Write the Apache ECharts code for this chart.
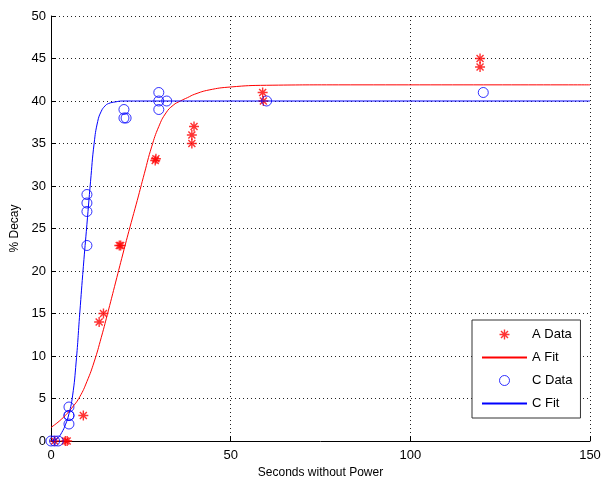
<!DOCTYPE html>
<html>
<head>
<meta charset="utf-8">
<script src="https://cdn.jsdelivr.net/npm/echarts@6/dist/echarts.min.js"></script>
<style>
  html, body { margin: 0; padding: 0; background: #fff; }
  #chart { width: 605px; height: 481px; }
</style>
</head>
<body>
<div id="chart"></div>
<script>
// A data (stars)
var aX = [1, 4, 4.5, 9, 13.4, 14.6, 19, 19.4, 29, 29.2, 39.2, 39.2, 39.8, 58.9, 59.1, 119.4, 119.4];
var aY = [0, 0, 0, 3, 14, 15, 23, 23, 33, 33.2, 35, 36, 37, 41, 40, 45, 44];

// C data (circles)
var cX = [0, 1, 2, 5, 5, 5, 5, 10, 10, 10, 10, 20.3, 20.3, 20.9, 30, 30, 30, 32.2, 60, 120.3];
var cY = [0, 0, 0, 2, 3, 3, 4, 23, 27, 28, 29, 38, 39, 38, 39, 40, 41, 40, 40, 41];

// fit curves
var aFitX = [0, 3, 6, 8, 10, 12, 14, 16, 18, 20, 22, 24, 26, 28, 30, 32, 34, 36, 38, 40, 44, 50, 60, 80, 150];
var aFitY = [1.6, 2.6, 4.0, 5.2, 7.0, 9.3, 12.2, 15.4, 18.7, 22.0, 25.2, 28.3, 31.5, 34.6, 37.0, 38.6, 39.5, 40.0, 40.4, 40.8, 41.3, 41.65, 41.85, 41.9, 41.9];

var cFitX = [0, 1, 2, 3, 4, 5, 6, 7, 8, 9, 10, 11, 12, 13, 14, 15, 16, 18, 20, 25, 150];
var cFitY = [0, 0.1, 0.4, 1.0, 1.9, 3.2, 5.3, 9.3, 15, 20.5, 25.5, 30.5, 35, 37.6, 38.8, 39.4, 39.7, 39.9, 40, 40, 40];

function pairs(xs, ys) {
  return xs.map(function (x, i) { return [x, ys[i]]; });
}

// asterisk marker like matlab '*'
var starPath = 'path://M0,4.3 L10,4.3 L10,5.7 L0,5.7 Z M4.3,0 L5.7,0 L5.7,10 L4.3,10 Z ' +
  'M1.0,2.0 L2.0,1.0 L9.0,8.0 L8.0,9.0 Z M8.0,1.0 L9.0,2.0 L2.0,9.0 L1.0,8.0 Z';

var font = 'Liberation Sans';
var chart = echarts.init(document.getElementById('chart'));

var option = {
  animation: false,
  backgroundColor: '#fff',
  textStyle: { fontFamily: font },
  grid: { left: 51, right: 15, top: 16, bottom: 40, outerBoundsMode: 'none', containLabel: false },
  legend: {
    orient: 'vertical',
    left: 472,
    top: 320,
    padding: [8, 8, 8, 9],
    itemWidth: 45,
    itemHeight: 10,
    itemGap: 10,
    backgroundColor: '#fff',
    borderColor: '#333',
    borderWidth: 1,
    textStyle: { fontFamily: font, fontSize: 13, color: '#000' },
    data: [
      { name: 'A Data' },
      // hide the marker drawn in the middle of the line icon
      { name: 'A Fit', itemStyle: { opacity: 0 } },
      { name: 'C Data', itemStyle: { color: 'rgba(0,0,0,0)', borderColor: '#0000ff', borderWidth: 1 } },
      { name: 'C Fit', itemStyle: { opacity: 0 } }
    ]
  },
  xAxis: {
    type: 'value',
    min: 0, max: 150, interval: 50,
    name: 'Seconds without Power',
    nameLocation: 'middle',
    nameGap: 22,
    nameTextStyle: { fontFamily: font, fontSize: 12, color: '#000' },
    axisLine: { lineStyle: { color: '#000', width: 1 } },
    axisTick: { inside: true, length: 5, lineStyle: { color: '#000' } },
    axisLabel: { margin: 8, fontSize: 13, color: '#000', fontFamily: font },
    splitLine: { show: true, lineStyle: { color: '#222', type: [1, 3], width: 1 } }
  },
  yAxis: {
    type: 'value',
    min: 0, max: 50, interval: 5,
    name: '% Decay',
    nameLocation: 'middle',
    nameGap: 30,
    nameTextStyle: { fontFamily: font, fontSize: 12, color: '#000' },
    axisLine: { show: true, lineStyle: { color: '#000', width: 1 } },
    axisTick: { show: true, inside: true, length: 5, lineStyle: { color: '#000' } },
    axisLabel: { margin: 5, fontSize: 13, color: '#000', fontFamily: font },
    splitLine: { show: true, lineStyle: { color: '#222', type: [1, 3], width: 1 } }
  },
  series: [
    {
      name: 'A Data',
      type: 'scatter',
      symbol: starPath,
      symbolSize: 10,
      itemStyle: { color: '#ff0000' },
      data: pairs(aX, aY)
    },
    {
      name: 'A Fit',
      type: 'line',
      symbol: 'none',
      smooth: true,
      lineStyle: { color: '#ff0000', width: 1 },
      itemStyle: { color: '#ff0000' },
      data: pairs(aFitX, aFitY)
    },
    {
      name: 'C Data',
      type: 'scatter',
      symbol: 'circle',
      symbolSize: 10,
      itemStyle: { color: 'rgba(0,0,0,0)', borderColor: '#0000ff', borderWidth: 1 },
      data: pairs(cX, cY)
    },
    {
      name: 'C Fit',
      type: 'line',
      symbol: 'none',
      smooth: true,
      lineStyle: { color: '#0000ff', width: 1 },
      itemStyle: { color: '#0000ff' },
      data: pairs(cFitX, cFitY)
    }
  ]
};

chart.setOption(option);
</script>
</body>
</html>
